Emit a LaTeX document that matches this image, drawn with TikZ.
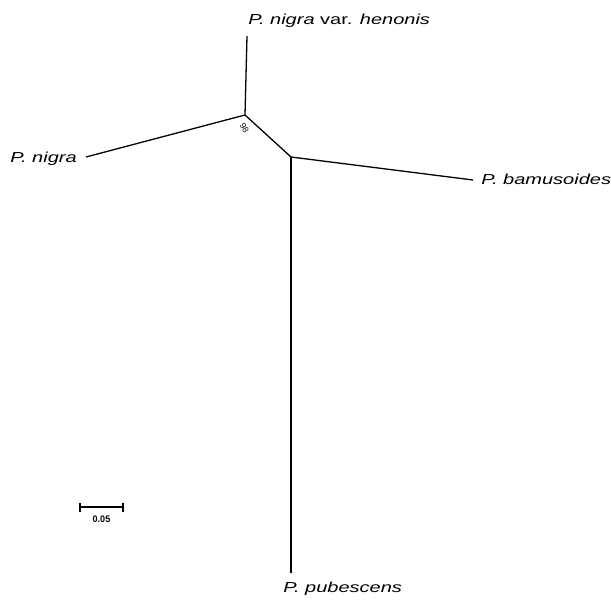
\documentclass[tikz,border=0pt]{standalone}
\usepackage{fontspec}
\setmainfont{Liberation Sans}
\usetikzlibrary{positioning,arrows.meta}

\begin{document}
\begin{tikzpicture}[x=1pt, y=-1pt,
    branch/.style={line width=1.3pt},
    taxon/.style={font=\fontsize{14.5}{16}\selectfont\itshape, inner sep=0pt, xscale=1.38}]
  \useasboundingbox (0,0) rectangle (611,604);

  \coordinate (upper) at (245,115);
  \coordinate (lower) at (291,157);
  \coordinate (tipHen) at (247,36);
  \coordinate (tipNig) at (86,157);
  \coordinate (tipBam) at (473,180);
  \coordinate (tipPub) at (291,573);

  \node[taxon, anchor=base west] (hen) at (248,25) {P. nigra {\upshape var.} henonis};
  \node[taxon, anchor=base east] (nig) at (77,163) {P. nigra};
  \node[taxon, anchor=base west] (bam) at (481,185) {P. bamusoides};
  \node[taxon, anchor=base west] (pub) at (283,592) {P. pubescens};

  \draw[branch] (upper) -- (tipHen);
  \draw[branch] (upper) -- (tipNig);
  \draw[branch] (upper) -- (lower);
  \draw[branch] (lower) -- (tipBam);
  \draw[branch] (lower) -- (tipPub);
  \node[font=\fontsize{8.5}{9}\selectfont, inner sep=0pt, rotate=-60] (boot) at (244.5,128.5) {98};

  \coordinate (barL) at (79,507);
  \coordinate (barR) at (124,507);
  \draw[line width=1.6pt, {Bar[width=9pt]}-{Bar[width=9pt]}] (barL) -- (barR);
  \node[font=\fontsize{9.5}{10}\selectfont\bfseries, inner sep=0pt, xscale=0.95] (scale) at (101.5,519.5) {0.05};
\end{tikzpicture}
\end{document}
